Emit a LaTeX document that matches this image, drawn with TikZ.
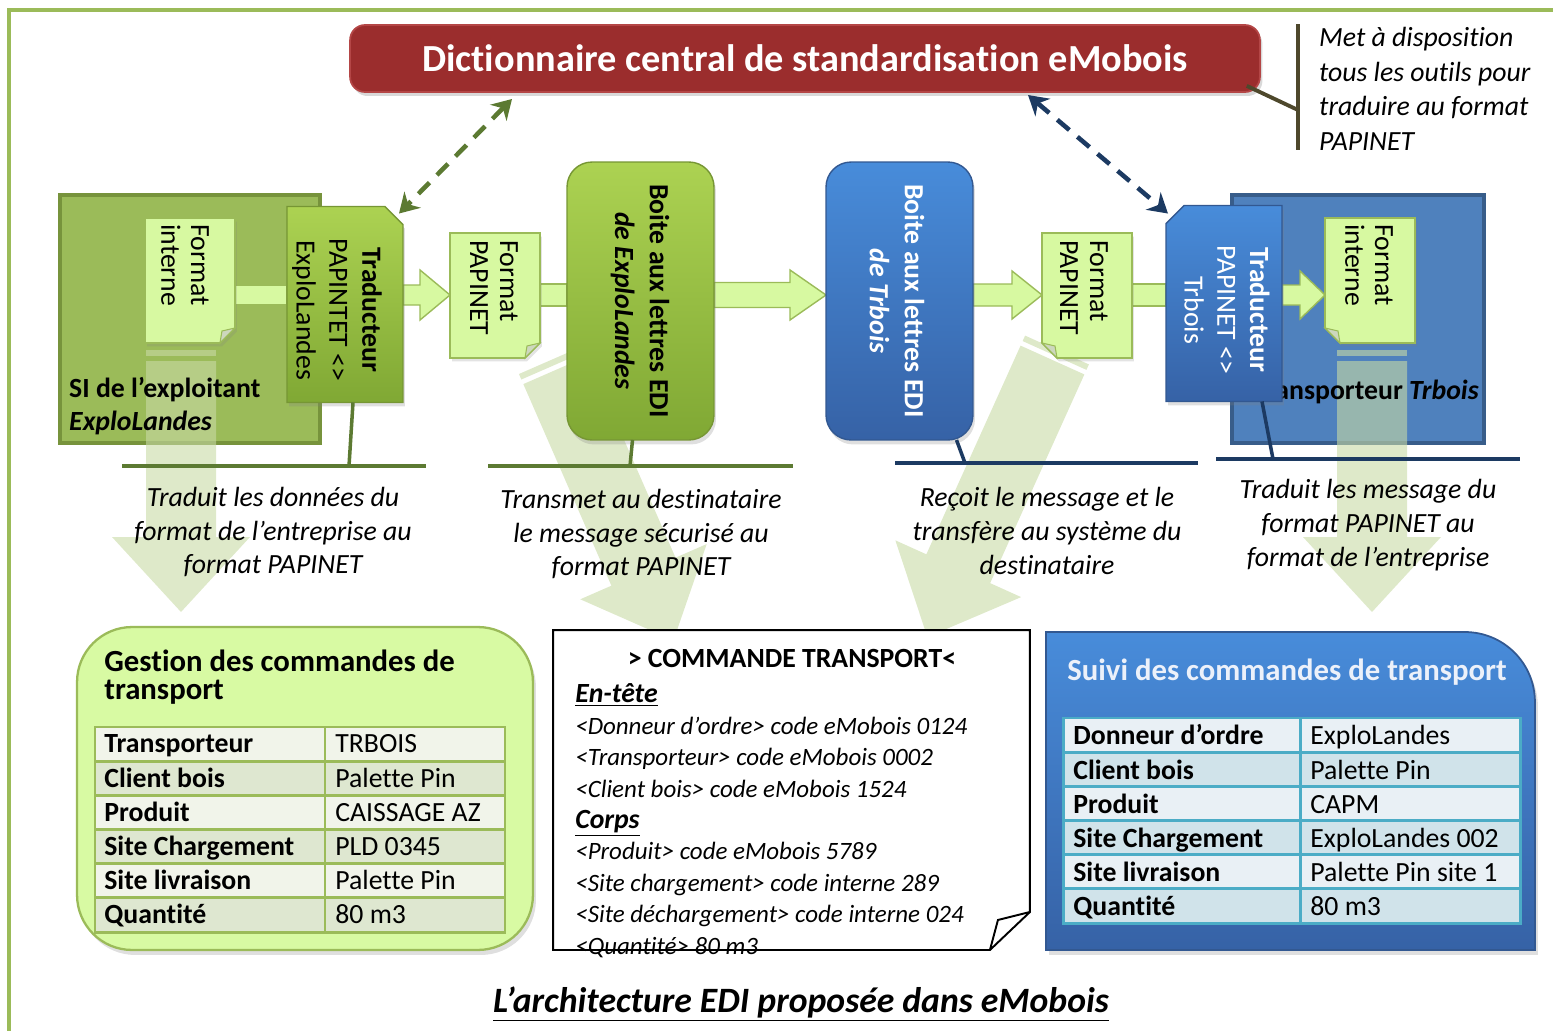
\documentclass[tikz,border=0pt]{standalone}
\usepackage{fontspec}
\setmainfont{Carlito}[Ligatures=CommonOff]
\usetikzlibrary{positioning, arrows.meta, calc, shadows}

\definecolor{framegreen}{RGB}{155,187,89}
\definecolor{sifill}{RGB}{155,187,89}
\definecolor{sidraw}{RGB}{119,147,60}
\definecolor{tpfill}{RGB}{79,129,189}
\definecolor{tpdraw}{RGB}{56,93,138}
\definecolor{fadegreen}{RGB}{200,218,165}
\definecolor{docfill}{RGB}{215,249,161}
\definecolor{docdraw}{RGB}{155,187,89}
\definecolor{curlfill}{RGB}{205,215,190}
\definecolor{greentop}{RGB}{172,210,82}
\definecolor{greenbot}{RGB}{128,168,52}
\definecolor{greendraw}{RGB}{118,150,52}
\definecolor{bluetop}{RGB}{72,140,218}
\definecolor{bluebot}{RGB}{54,98,166}
\definecolor{bluedraw}{RGB}{50,88,145}
\definecolor{dictred}{RGB}{155,45,45}
\definecolor{dictdraw}{RGB}{180,70,70}
\definecolor{linegreen}{RGB}{92,122,50}
\definecolor{lineblue}{RGB}{28,58,98}
\definecolor{calloutc}{RGB}{78,72,44}
\definecolor{gestfill}{RGB}{216,250,163}
\definecolor{gtabA}{RGB}{241,244,234}
\definecolor{gtabB}{RGB}{222,231,208}
\definecolor{stabA}{RGB}{233,240,245}
\definecolor{stabB}{RGB}{208,227,234}
\definecolor{stabdraw}{RGB}{75,172,198}
\definecolor{suivitext}{RGB}{236,241,250}

\pgfdeclarelayer{back}
\pgfdeclarelayer{flowlayer}
\pgfsetlayers{back,flowlayer,main}

\newcommand{\basefs}{\fontsize{15.8}{19.3}\selectfont}

% translucent downward arrow: start x, start y, angle, length
\newcommand{\bigarrow}[4]{%
  \begin{scope}[shift={(#1,#2)}, rotate=#3]
    \fill[fadearrow] (0,-35) rectangle (6,35);
    \fill[fadearrow] (11,-35) -- (#4-75,-35) -- (#4-75,-69) -- (#4,0) -- (#4-75,69) -- (#4-75,35) -- (11,35) -- cycle;
  \end{scope}}

% block arrow: from, to, head length, shaft half width, head half width
\newcommand{\flowarrow}[5]{%
  \filldraw[flow] ($(#1.east |- ax)+(0,-#4)$) -- ($(#2.west |- ax)+(-#3,-#4)$) -- ($(#2.west |- ax)+(-#3,-#5)$) -- (#2.west |- ax) -- ($(#2.west |- ax)+(-#3,#5)$) -- ($(#2.west |- ax)+(-#3,#4)$) -- ($(#1.east |- ax)+(0,#4)$) -- cycle;}
\newcommand{\flowbar}[3]{%
  \filldraw[flow] ($(#1.east |- ax)+(0,-#3)$) rectangle ($(#2.west |- ax)+(0,#3)$);}

% page with folded corner
\newcommand{\docleft}[1]{%
  \filldraw[docpage] (#1.north west) -- (#1.north east) -- ($(#1.south east)+(0,-15)$) -- ($(#1.south east)+(-15,0)$) -- (#1.south west) -- cycle;
  \filldraw[doccurl] ($(#1.south east)+(0,-15)$) -- ($(#1.south east)+(-13,-12)$) -- ($(#1.south east)+(-15,0)$) -- cycle;}
\newcommand{\docright}[1]{%
  \filldraw[docpage] (#1.north west) -- (#1.north east) -- (#1.south east) -- ($(#1.south west)+(15,0)$) -- ($(#1.south west)+(0,-15)$) -- cycle;
  \filldraw[doccurl] ($(#1.south west)+(15,0)$) -- ($(#1.south west)+(13,-12)$) -- ($(#1.south west)+(0,-15)$) -- cycle;}

\begin{document}
\begin{tikzpicture}[x=0.02cm, y=-0.02cm,
  every node/.style={font=\basefs},
  frame/.style={draw=framegreen, line width=2.3pt},
  sysbox/.style={rectangle, inner sep=0, outer sep=0, line width=2.2pt},
  fadearrow/.style={fill=fadegreen, fill opacity=0.6},
  flow/.style={fill=docfill, draw=docdraw, line width=0.8pt},
  docnode/.style={rectangle, minimum width=1.8cm, minimum height=2.5cm, inner sep=0, outer sep=0},
  docpage/.style={fill=docfill, draw=docdraw, line width=0.9pt, drop shadow={shadow xshift=0.04cm, shadow yshift=-0.07cm, opacity=0.22}},
  doccurl/.style={fill=curlfill, draw=docdraw, line width=0.6pt},
  doctext/.style={rotate=-90, anchor=west, align=left, inner sep=0, font=\fontsize{15.8}{17}\selectfont},
  tradnode/.style={rectangle, minimum width=2.32cm, minimum height=3.92cm, inner sep=0, outer sep=0},
  tradshape/.style={line width=0.8pt, drop shadow={shadow xshift=0.04cm, shadow yshift=-0.08cm, opacity=0.25}},
  tradtext/.style={rotate=-90, align=center, inner sep=0, font=\fontsize{15.8}{18.7}\selectfont},
  boite/.style={rectangle, rounded corners=0.5cm, minimum width=2.94cm, minimum height=5.56cm, inner sep=0, outer sep=0, line width=0.8pt, drop shadow={shadow xshift=0.04cm, shadow yshift=-0.09cm, opacity=0.25}},
  boitetext/.style={rotate=-90, align=center, inner sep=0, font=\bfseries\fontsize{15.8}{19.8}\selectfont},
  dictbox/.style={rectangle, rounded corners=0.3cm, minimum width=18.2cm, minimum height=1.34cm, fill=dictred, draw=dictdraw, line width=1pt, text=white, font=\bfseries\fontsize{21.8}{24}\selectfont, drop shadow={shadow xshift=0.05cm, shadow yshift=-0.08cm, opacity=0.3}},
  dictlink/.style={line width=2.6pt, dash pattern=on 9pt off 6pt, >={Stealth[length=11pt,width=13pt]}, <->},
  callout/.style={draw=calloutc, line width=2.2pt},
  uline/.style={line width=2.3pt},
  tickline/.style={line width=2pt},
  caption/.style={align=center, font=\itshape\fontsize{15.8}{19.3}\selectfont},
  gestbox/.style={rectangle, rounded corners=1.1cm, minimum width=9.12cm, minimum height=6.46cm, fill=gestfill, draw=docdraw, line width=1.3pt, inner sep=0, drop shadow={shadow xshift=0.06cm, shadow yshift=-0.1cm, opacity=0.25}},
  gcell/.style={draw=docdraw, line width=1.7pt},
  scell/.style={draw=stabdraw, line width=1.7pt},
  celltext/.style={anchor=west, inner sep=0, text height=1.6ex, text depth=0.45ex},
  cmdline/.style={anchor=west, inner sep=0, text height=1.6ex, text depth=0.45ex, font=\itshape\fontsize{14.2}{17}\selectfont}
]
\useasboundingbox (0,0) rectangle (1553,1031);

\begin{pgfonlayer}{back}
  \draw[frame] (9,10) rectangle (1600,1100);
  \node[sysbox, fill=sifill, draw=sidraw, minimum width=5.2cm, minimum height=4.96cm] (si) at (190,319) {};
  \node[sysbox, fill=tpfill, draw=tpdraw, minimum width=5.04cm, minimum height=4.96cm] (tp) at (1358,319) {};
  \bigarrow{181}{350}{-90}{262}
  \bigarrow{551}{360}{-66.4}{306}
  \bigarrow{1057}{350}{-114.3}{315}
  \bigarrow{1372}{350}{-90}{262}
  \node[anchor=west, font=\basefs\bfseries] (si-t1) at (63,390) {SI de l’exploitant};
  \node[anchor=west, font=\basefs\bfseries\itshape] (si-t2) at (63,423) {ExploLandes};
  \node[anchor=east, font=\basefs\bfseries] (tp-t) at (1485,392) {Transporteur \textit{Trbois}};
\end{pgfonlayer}

% dictionary and callout
\node[dictbox] (dict) at (805,58.5) {Dictionnaire central de standardisation eMobois};
\coordinate (cbt) at (1298,24);
\coordinate (cbb) at (1298,150);
\coordinate (cbm) at (1298,110);
\draw[callout] (cbt) -- (cbb);
\draw[callout] ($(dict.south east)+(-14,-7)$) -- (cbm);
\node[caption, align=left, anchor=west, font=\itshape\fontsize{15.8}{19.6}\selectfont] (call) at (1313,89) {Met à disposition\\tous les outils pour\\traduire au format\\PAPINET};

% documents
\node[docnode] (fil) at (190,280.5) {};
\node[docnode] (fpl) at (495,295.5) {};
\node[docnode] (fpr) at (1087,295.5) {};
\node[docnode] (fir) at (1370,280.5) {};
\docleft{fil}
\docleft{fpl}
\docright{fpr}
\docright{fir}
\node[doctext] (fil-t) at (185,224) {Format\\interne};
\node[doctext] (fpl-t) at (494,240) {Format\\PAPINET};
\node[doctext] (fpr-t) at (1084,240) {Format\\PAPINET};
\node[doctext] (fir-t) at (1369,224) {Format\\interne};

% translators
\node[tradnode] (trl) at (345,304.5) {};
\draw[tradshape, top color=greentop, bottom color=greenbot, draw=greendraw] (trl.south west) -- (trl.north west) -- ($(trl.north east)+(-18,0)$) -- ($(trl.north east)+(0,18)$) -- (trl.south east) -- cycle;
\node[tradtext] (trl-t) at (337,310) {\textbf{Traducteur}\\PAPINTET <>\\ExploLandes};
\node[tradnode] (trr) at (1224,303.5) {};
\draw[tradshape, top color=bluetop, bottom color=bluebot, draw=bluedraw] (trr.south west) -- ($(trr.north west)+(0,18)$) -- ($(trr.north west)+(18,0)$) -- (trr.north east) -- (trr.south east) -- cycle;
\node[tradtext, text=white] (trr-t) at (1227,310) {\textbf{Traducteur}\\PAPINET <>\\Trbois};

% mail boxes
\node[boite, top color=greentop, bottom color=greenbot, draw=greendraw] (bel) at (640.5,301) {};
\node[boitetext] (bel-t) at (640,301) {Boite aux lettres EDI\\\textit{de ExploLandes}};
\node[boite, top color=bluetop, bottom color=bluebot, draw=bluedraw] (bet) at (899.5,301) {};
\node[boitetext, text=white] (bet-t) at (897,301) {Boite aux lettres EDI\\\textit{de Trbois}};

% message flow
\begin{pgfonlayer}{flowlayer}
  \coordinate (ax) at (0,295);
  \flowbar{fil}{trl}{10}
  \flowarrow{trl}{fpl}{30}{10}{25}
  \flowbar{fpl}{bel}{11}
  \flowarrow{bel}{bet}{36}{12.5}{25}
  \flowarrow{bet}{fpr}{30}{11}{24}
  \flowbar{fpr}{trr}{11}
  \flowarrow{trr}{fir}{25}{10}{24}
\end{pgfonlayer}

% links to the dictionary
\coordinate (dl) at (512,99);
\coordinate (dr) at (1028,95);
\draw[dictlink, draw=linegreen] (dl) -- ($(trl.north east)+(-4,7)$);
\draw[dictlink, draw=lineblue] (dr) -- ($(trr.north west)+(2,8)$);

% captions
\draw[uline, draw=linegreen] (122,466) -- (426,466);
\draw[uline, draw=linegreen] (488,466) -- (793,466);
\draw[uline, draw=lineblue] (895,463) -- (1198,463);
\draw[uline, draw=lineblue] (1216,459) -- (1520,459);
\coordinate (u1m) at (349,466);
\coordinate (u2m) at (630,466);
\coordinate (u3m) at (965,463);
\coordinate (u4m) at (1273,459);
\draw[tickline, draw=linegreen] ($(trl.south)+(8,0)$) -- (u1m);
\draw[tickline, draw=linegreen] ($(bel.south)+(-8,0)$) -- (u2m);
\draw[tickline, draw=lineblue] ($(bet.south)+(57,0)$) -- (u3m);
\draw[tickline, draw=lineblue] ($(trr.south)+(38,0)$) -- (u4m);
\node[caption] (cap1) at (273,532) {Traduit les données du\\format de l’entreprise au\\format PAPINET};
\node[caption] (cap2) at (641,534) {Transmet au destinataire\\le message sécurisé au\\format PAPINET};
\node[caption] (cap3) at (1047,531) {Reçoit le message et le\\transfère au système du\\destinataire};
\node[caption] (cap4) at (1368,525) {Traduit les message du\\format PAPINET au\\format de l’entreprise};

% order management table
\node[gestbox] (gest) at (305,788.5) {};
\node[anchor=west, align=left, inner sep=0, font=\bfseries\fontsize{17.5}{16.2}\selectfont] (gest-t) at (104,677) {Gestion des commandes de\\transport};
\foreach \k/\v [count=\i from 0] in {Transporteur/TRBOIS, Client bois/Palette Pin, Produit/CAISSAGE AZ, Site Chargement/PLD 0345, Site livraison/Palette Pin, Quantité/80 m3} {
  \ifodd\i \def\rowc{gtabB}\else\def\rowc{gtabA}\fi
  \filldraw[gcell, fill=\rowc] (95,727+34.17*\i) rectangle (325,761.17+34.17*\i);
  \filldraw[gcell, fill=\rowc] (325,727+34.17*\i) rectangle (505,761.17+34.17*\i);
  \node[celltext, font=\basefs\bfseries] (gk\i) at (104,748+34.17*\i) {\k};
  \node[celltext] (gv\i) at (335,748+34.17*\i) {\v};
}

% transport order message
\node[rectangle, minimum width=9.54cm, minimum height=6.4cm, inner sep=0, outer sep=0] (cmd) at (791.5,790) {};
\draw[fill=white, line width=1.1pt] (cmd.north west) -- (cmd.north east) -- ($(cmd.south east)+(0,-38)$) -- ($(cmd.south east)+(-40,0)$) -- (cmd.south west) -- cycle;
\draw[line width=1.1pt] ($(cmd.south east)+(0,-38)$) -- ($(cmd.south east)+(-32,-30)$) -- ($(cmd.south east)+(-40,0)$);
\node[font=\bfseries\fontsize{15.8}{19}\selectfont] (cmd-t) at (792,658) {> COMMANDE TRANSPORT<};
\foreach \l [count=\i from 0] in {{\bfseries\fontsize{15.8}{17}\selectfont\underline{En-tête}}, <Donneur d’ordre> code eMobois 0124, <Transporteur> code eMobois 0002, <Client bois> code eMobois 1524, {\bfseries\fontsize{15.8}{17}\selectfont\underline{Corps}}, <Produit> code eMobois 5789, <Site chargement> code interne 289, <Site déchargement> code interne 024, <Quantité> 80 m3} {
  \node[cmdline] (cl\i) at (575,698+31.4*\i) {\l};
}

% transport follow-up table
\node[rectangle, minimum width=9.78cm, minimum height=6.36cm, inner sep=0, outer sep=0] (suivi) at (1290.5,791) {};
\draw[top color=bluetop, bottom color=bluebot, draw=bluedraw, line width=1pt, drop shadow={shadow xshift=0.06cm, shadow yshift=-0.1cm, opacity=0.25}] (suivi.south west) -- (suivi.north west) -- ($(suivi.north east)+(-70,0)$) arc[start angle=90, end angle=0, radius=1.4cm] -- (suivi.south east) -- cycle;
\node[anchor=west, inner sep=0, text=suivitext, font=\bfseries\fontsize{17.5}{20}\selectfont] (suivi-t) at (1067,672) {Suivi des commandes de transport};
\foreach \k/\v [count=\i from 0] in {Donneur d’ordre/ExploLandes, Client bois/Palette Pin, Produit/CAPM, Site Chargement/ExploLandes 002, Site livraison/Palette Pin site 1, Quantité/80 m3} {
  \ifodd\i \def\rowc{stabB}\else\def\rowc{stabA}\fi
  \filldraw[scell, fill=\rowc] (1063,718+34.17*\i) rectangle (1300,752.17+34.17*\i);
  \filldraw[scell, fill=\rowc] (1300,718+34.17*\i) rectangle (1520,752.17+34.17*\i);
  \node[celltext, font=\basefs\bfseries] (sk\i) at (1073,740+34.17*\i) {\k};
  \node[celltext] (sv\i) at (1310,740+34.17*\i) {\v};
}

\node[font=\bfseries\itshape\fontsize{20.3}{24}\selectfont] (title) at (801,1004) {\underline{L’architecture EDI proposée dans eMobois}};
\end{tikzpicture}
\end{document}
